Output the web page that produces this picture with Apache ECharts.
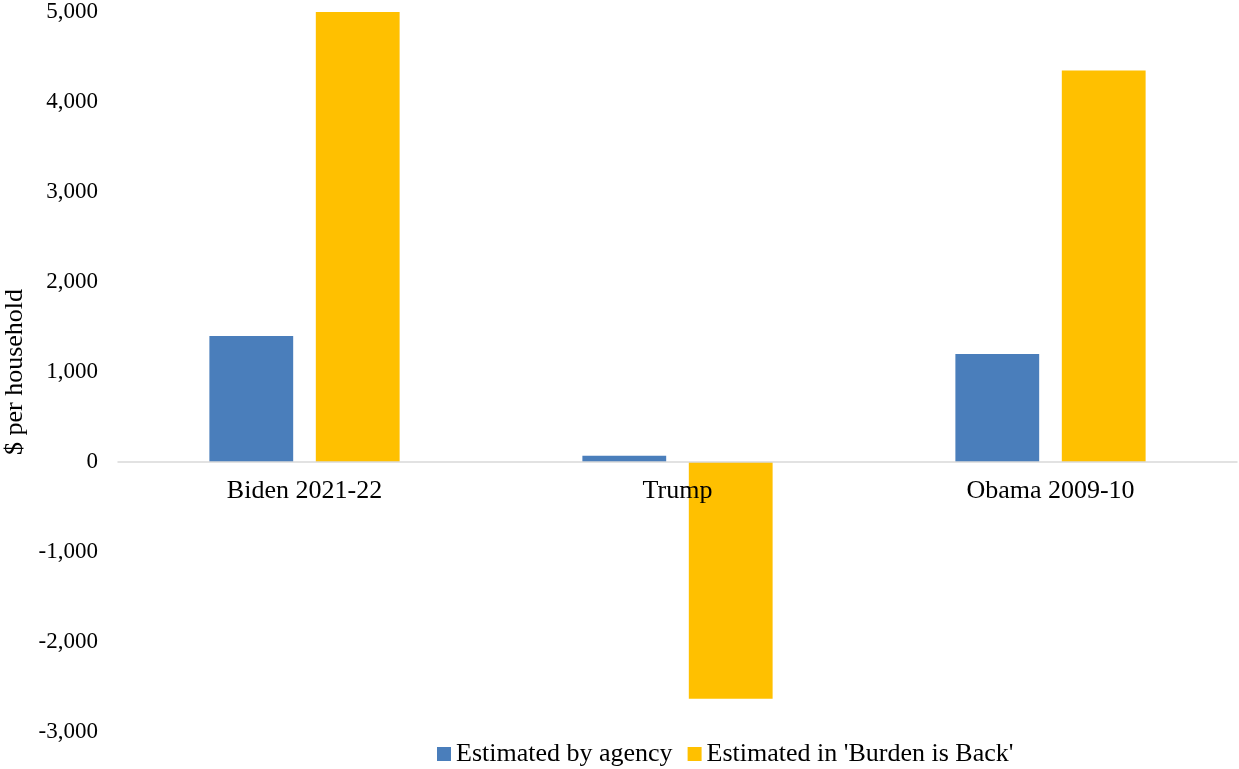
<!DOCTYPE html>
<html>
<head>
<meta charset="utf-8">
<script src="https://cdn.jsdelivr.net/npm/echarts@6/dist/echarts.min.js"></script>
<style>
html,body{margin:0;padding:0;background:#fff;}
#chart{width:1239px;height:769px;}
</style>
</head>
<body>
<div id="chart"></div>
<script>
const categories = ['Biden 2021-22', 'Trump', 'Obama 2009-10'];
const seriesNames = ['Estimated by agency', "Estimated in 'Burden is Back'"];
const agencyValues = [1400, 70, 1200];
const burdenValues = [5000, -2630, 4350];
const yTicks = { min: -3000, max: 5000, interval: 1000 };
const yAxisName = '$ per household';

const font = 'Liberation Serif, Times New Roman, serif';
const H = 769, gridTop = 12, gridBottom = 37;
const plotH = H - gridTop - gridBottom;
// distance of the zero line above the grid bottom, derived from the axis range
const zeroOffset = plotH * (0 - yTicks.min) / (yTicks.max - yTicks.min);

const chart = echarts.init(document.getElementById('chart'));
chart.setOption({
  animation: false,
  backgroundColor: '#ffffff',
  textStyle: { fontFamily: font },
  grid: { left: 118, right: 2, top: gridTop, bottom: gridBottom, containLabel: false, outerBoundsMode: 'none' },
  legend: {
    left: 432,
    top: 736,
    itemWidth: 14,
    itemHeight: 14,
    itemGap: 15,
    icon: 'rect',
    textStyle: { fontFamily: font, fontSize: 26, color: '#000' },
    data: seriesNames
  },
  xAxis: {
    type: 'category',
    data: categories,
    z: 10,
    offset: -zeroOffset,
    axisLine: { onZero: false, lineStyle: { color: '#d9d9d9', width: 1.5 } },
    axisTick: { show: false },
    axisLabel: { fontFamily: font, fontSize: 26, color: '#000', margin: 16 },
    splitLine: { show: false }
  },
  yAxis: {
    type: 'value',
    min: yTicks.min,
    max: yTicks.max,
    interval: yTicks.interval,
    name: yAxisName,
    nameLocation: 'middle',
    nameGap: 79,
    nameTextStyle: { fontFamily: font, fontSize: 26, color: '#000' },
    axisLine: { show: false },
    axisTick: { show: false },
    splitLine: { show: false },
    axisLabel: {
      fontFamily: font, fontSize: 23, color: '#000', margin: 20,
      formatter: v => v.toLocaleString('en-US')
    }
  },
  series: [
    {
      name: seriesNames[0], type: 'bar', data: agencyValues,
      itemStyle: { color: '#4a7ebb' },
      barGap: '27%', barCategoryGap: '49%'
    },
    {
      name: seriesNames[1], type: 'bar', data: burdenValues,
      itemStyle: { color: '#ffc000' },
      barGap: '27%', barCategoryGap: '49%'
    }
  ]
});
</script>
</body>
</html>
